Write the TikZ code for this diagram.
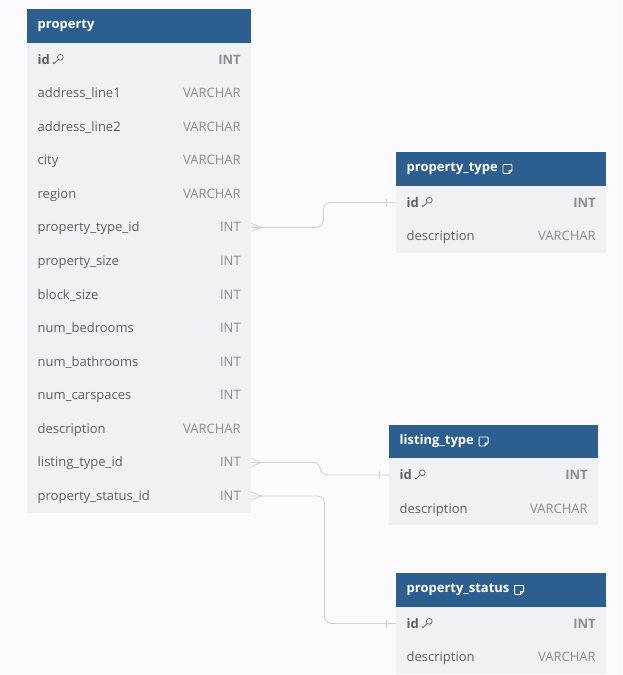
\documentclass[tikz,border=0pt]{standalone}
\usepackage{fontspec}
\setmainfont{Open Sans}
\usepackage{tikz}
\usetikzlibrary{calc}
\definecolor{TableHead}{HTML}{2C5E8F}
\definecolor{TableRow}{HTML}{F1F0F3}
\definecolor{PageTint}{HTML}{FBFBFE}
\definecolor{FieldText}{HTML}{5E5E64}
\definecolor{KindText}{HTML}{8C8C92}
\definecolor{LinkGrey}{HTML}{D3D3D6}
\tikzset{
  headbox/.style={fill=TableHead,minimum height=33.5pt,inner sep=0pt,anchor=north west},
  rowbox/.style={fill=TableRow,minimum height=33.6pt,inner sep=0pt,anchor=north west},
  headtext/.style={text=white,font=\fontsize{13}{15}\selectfont\bfseries,inner sep=0pt,anchor=west},
  fieldtext/.style={text=FieldText,font=\fontsize{13}{15}\selectfont,inner sep=0pt,anchor=base west},
  kindtext/.style={text=KindText,font=\fontsize{13}{15}\selectfont,inner sep=0pt,anchor=base east},
  link/.style={draw=LinkGrey,line width=0.9pt,rounded corners=7pt},
  mark line/.style={draw=LinkGrey,line width=0.8pt},
  keyicon/.pic={
    \draw[FieldText,line width=0.7pt] (2.2,-2.2) circle (2.9);
    \draw[FieldText,line width=0.7pt] (0.2,-0.2) -- (-4.2,4.2) -- (-5.2,2.4);
  },
  noteicon/.pic={
    \draw[white,line width=0.9pt,line join=round] (1.5,4.5) -- (-3,4.5) .. controls (-4.5,4.5) and (-4.5,4.5) .. (-4.5,3) -- (-4.5,-3)
      .. controls (-4.5,-4.5) and (-4.5,-4.5) .. (-3,-4.5) -- (3,-4.5) .. controls (4.5,-4.5) and (4.5,-4.5) .. (4.5,-3) -- (4.5,1.5) -- (1.5,4.5) -- (1.5,1.5) -- (4.5,1.5);
  }
}
\begin{document}
\begin{tikzpicture}[x=1pt,y=-1pt]
  \useasboundingbox[fill=PageTint] (0,0) rectangle (622,675);
  % main table
  \node[headbox,minimum width=224pt] (property-head) at (27,9) {};
  \node[headtext] (property-title) at ($(property-head.west)+(10.5,0)$) {property};
  \foreach \field/\kind [count=\i from 1] in {id/INT,address\_line1/VARCHAR,address\_line2/VARCHAR,city/VARCHAR,region/VARCHAR,
    property\_type\_id/INT,property\_size/INT,block\_size/INT,num\_bedrooms/INT,num\_bathrooms/INT,num\_carspaces/INT,
    description/VARCHAR,listing\_type\_id/INT,property\_status\_id/INT} {
    \node[rowbox,minimum width=224pt] (property-\i) at (27,{42.5+(\i-1)*33.58}) {};
    \node[fieldtext] (property-\i-field) at ($(property-\i.west)+(10.5,4.5)$) {\ifnum\i=1 \bfseries\fi\field};
    \node[kindtext] (property-\i-kind) at ($(property-\i.east)+(-10.5,4.5)$) {\ifnum\i=1 \bfseries\fi\kind};
  }
  \pic at ($(property-1-field.base east)+(8,-4.5)$) {keyicon};
  % small tables
  \foreach \tab/\title/\left/\top/\wide in {type/property\_type/396/152/210,listing/listing\_type/389/424.5/209,status/property\_status/396/573/210} {
    \node[headbox,minimum width=\wide pt] (\tab-head) at (\left,\top) {};
    \node[headtext] (\tab-title) at ($(\tab-head.west)+(10.5,0)$) {\title};
    \pic at ($(\tab-title.east)+(9.5,0)$) {noteicon};
    \node[rowbox,minimum width=\wide pt] (\tab-1) at (\left,\top+33.5) {};
    \node[rowbox,minimum width=\wide pt] (\tab-2) at (\left,\top+67.1) {};
    \node[fieldtext] (\tab-1-field) at ($(\tab-1.west)+(10.5,4.5)$) {\bfseries id};
    \node[kindtext] (\tab-1-kind) at ($(\tab-1.east)+(-10.5,4.5)$) {\bfseries INT};
    \node[fieldtext] (\tab-2-field) at ($(\tab-2.west)+(10.5,4.5)$) {description};
    \node[kindtext] (\tab-2-kind) at ($(\tab-2.east)+(-10.5,4.5)$) {VARCHAR};
    \pic at ($(\tab-1-field.base east)+(8,-4.5)$) {keyicon};
  }
  % links
  \draw[link] (property-6.east) -- ++(72,0) |- (type-1.west);
  \draw[link] (property-13.east) -- ++(69,0) |- (listing-1.west);
  \draw[link] (property-14.east) -- ++(73,0) |- (status-1.west);
  \foreach \from in {property-6,property-13,property-14} {
    \draw[mark line] ($(\from.east)+(0,-4)$) -- ($(\from.east)+(10,0)$) -- ($(\from.east)+(0,4)$);
  }
  \foreach \to in {type-1,listing-1,status-1} {
    \draw[mark line] ($(\to.west)+(-10,-4)$) -- ($(\to.west)+(-10,4)$);
  }
\end{tikzpicture}
\end{document}
